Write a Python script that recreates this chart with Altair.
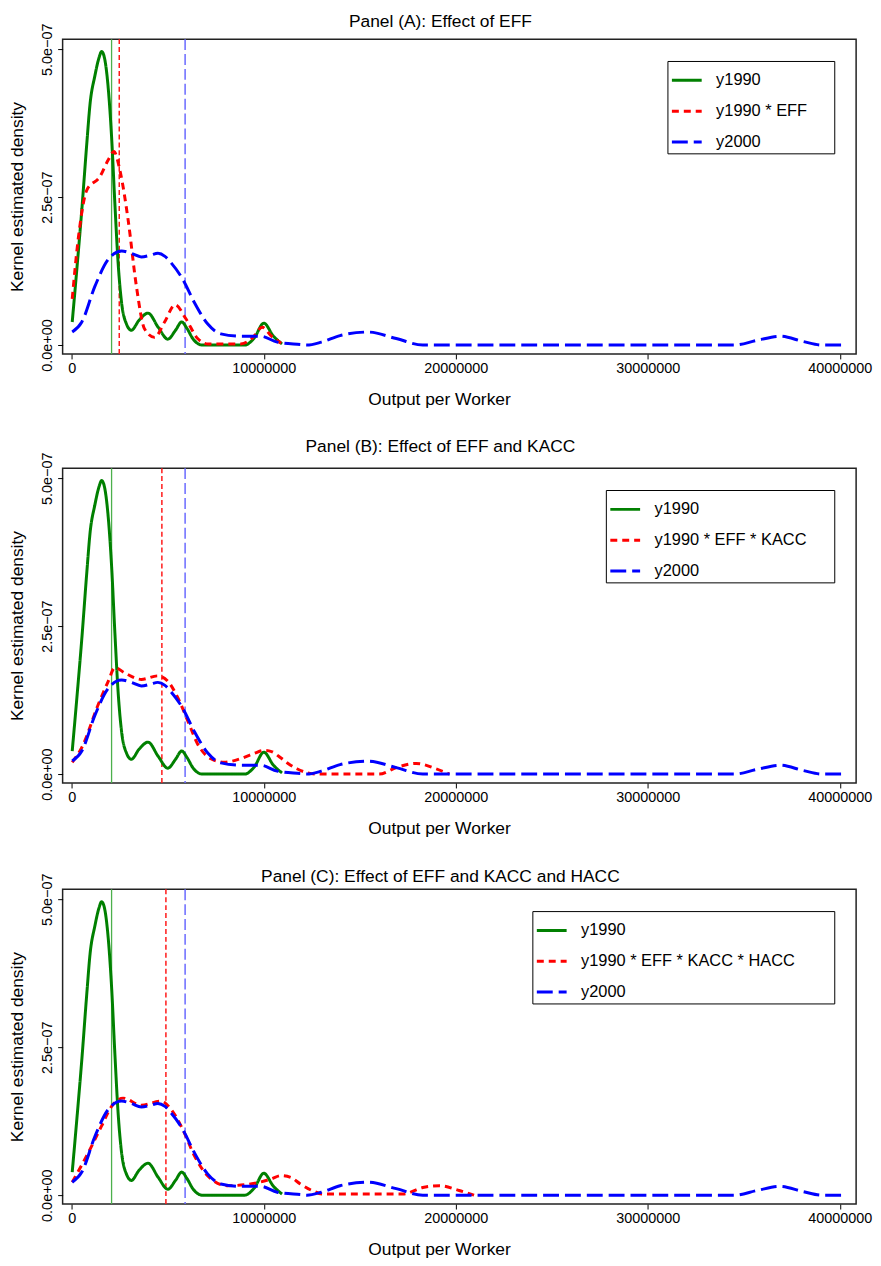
import altair as alt
import pandas as pd

FONT = "Liberation Sans"

# ---------------- data (x in millions, density in units of 1e-07) ----------------
green_x = [0.02, 0.26, 0.52, 0.78, 0.95, 1.20, 1.42, 1.55, 1.68, 1.85, 2.07, 2.24, 2.41, 2.59, 2.84, 3.10,
           3.50, 3.97, 4.50, 5.00, 5.40, 5.72, 6.00, 6.30, 6.80, 9.00, 9.50, 10.00, 10.50, 10.95]
green_y = [0.39, 1.28, 2.29, 3.41, 4.08, 4.55, 4.86, 4.96, 4.88, 4.50, 3.52, 2.40, 1.39, 0.72, 0.36, 0.25,
           0.42, 0.54, 0.30, 0.10, 0.25, 0.39, 0.28, 0.11, 0.00, 0.00, 0.12, 0.37, 0.15, 0.02]

blue_x = [0.02, 0.52, 1.21, 1.90, 2.59, 3.10, 3.62, 4.10, 4.48, 4.85, 5.17, 5.78, 6.38, 7.07, 7.76,
          8.79, 9.83, 10.70, 11.90, 12.24, 13.00, 13.97, 15.43, 16.90, 18.28, 34.50, 35.70, 36.90,
          38.10, 39.10, 40.20]
blue_y = [0.22, 0.39, 1.00, 1.45, 1.59, 1.55, 1.49, 1.52, 1.55, 1.50, 1.39, 1.11, 0.72, 0.36, 0.19,
          0.15, 0.15, 0.05, 0.01, 0.00, 0.05, 0.16, 0.22, 0.11, 0.00, 0.00, 0.08, 0.15,
          0.06, 0.00, 0.00]

redA_x = [0.02, 0.35, 0.78, 1.47, 1.90, 2.19, 2.50, 2.93, 3.36, 3.79, 4.31, 4.83, 5.38, 5.95, 6.55,
          7.10, 8.80, 9.40, 9.92, 10.40, 10.90]
redA_y = [0.78, 1.84, 2.62, 2.85, 3.13, 3.27, 2.96, 2.12, 1.00, 0.27, 0.13, 0.39, 0.68, 0.44, 0.11,
          0.02, 0.02, 0.12, 0.30, 0.15, 0.03]

redB_x = [0.02, 0.52, 1.38, 1.90, 2.24, 2.76, 3.62, 4.48, 5.00, 5.52, 6.04, 6.55, 7.24, 7.93, 8.79,
          9.50, 10.00, 10.40, 10.86, 11.30, 11.72, 12.76, 16.00, 16.90, 17.93, 18.97, 19.66]
redB_y = [0.20, 0.45, 1.18, 1.57, 1.80, 1.71, 1.60, 1.66, 1.57, 1.29, 0.90, 0.51, 0.26, 0.20, 0.26,
          0.35, 0.40, 0.38, 0.28, 0.17, 0.09, 0.00, 0.00, 0.11, 0.18, 0.09, 0.00]

redC_x = [0.02, 0.86, 1.55, 2.07, 2.67, 3.62, 4.66, 5.17, 5.78, 6.38, 7.07, 8.10, 9.31, 10.35, 10.90,
          11.40, 11.90, 12.50, 13.10, 17.24, 18.28, 19.14, 20.17, 20.95]
redC_y = [0.22, 0.72, 1.17, 1.50, 1.64, 1.52, 1.59, 1.45, 1.11, 0.67, 0.33, 0.16, 0.19, 0.27, 0.33,
          0.30, 0.19, 0.08, 0.02, 0.02, 0.13, 0.16, 0.08, 0.00]

panel_titles = ["Panel (A): Effect of EFF",
                "Panel (B): Effect of EFF and KACC",
                "Panel (C): Effect of EFF and KACC and HACC"]
red_labels = ["y1990 * EFF", "y1990 * EFF * KACC", "y1990 * EFF * KACC * HACC"]
red_series = [(redA_x, redA_y), (redB_x, redB_y), (redC_x, redC_y)]

vline_green = [2.07, 2.07, 2.07]
vline_red = [2.47, 4.69, 4.90]
vline_blue = [5.90, 5.90, 5.90]
title_offsets = [-8, -4, -12]
legend_right_space = [2, 2, 3]   # invisible blank glyphs after legend labels (widen the box)

x_ticks = [0, 10, 20, 30, 40]
y_ticks = [0, 2.5, 5.0]

COLORS = ["#008000", "#ff0000", "#0000ff"]
DASHES = [[1, 0], [7, 5], [16, 6]]


def make_panel(i):
    red_x, red_y = red_series[i]
    names = ["y1990", red_labels[i], "y2000"]
    rows = []
    for name, xs, ys in [(names[0], green_x, green_y), (names[1], red_x, red_y), (names[2], blue_x, blue_y)]:
        for xv, yv in zip(xs, ys):
            rows.append({"x": xv, "d": yv, "s": name})
    df = pd.DataFrame(rows)

    xscale = alt.Scale(domain=[-0.48, 40.85], nice=False, zero=False)
    yscale = alt.Scale(domain=[-0.15, 5.17], nice=False, zero=False)

    xaxis = alt.Axis(values=x_ticks, title="Output per Worker",
                     labelExpr="datum.value == 0 ? '0' : format(datum.value * 1000000, 'd')",
                     grid=False, domain=False, tickSize=5, tickColor="black", labelColor="black",
                     labelFont=FONT, labelFontSize=14.5, labelPadding=3,
                     titleFont=FONT, titleFontSize=17.5, titleFontWeight="normal", titleColor="black",
                     titlePadding=15, titleX=379, titleAlign="center")
    yaxis = alt.Axis(values=y_ticks, title="Kernel estimated density",
                     labelExpr="format(datum.value, '.1f') + (datum.value == 0 ? 'e+00' : 'e\u221207')",
                     labelAngle=270, labelAlign="center", labelBaseline="alphabetic",
                     grid=False, domain=False, tickSize=5, tickColor="black", labelColor="black",
                     labelFont=FONT, labelFontSize=14.5, labelPadding=6,
                     titleFont=FONT, titleFontSize=17.5, titleFontWeight="normal", titleColor="black",
                     titlePadding=13)

    vl = pd.DataFrame({"g": [vline_green[i]], "r": [vline_red[i]], "b": [vline_blue[i]]})
    rule_g = alt.Chart(vl).mark_rule(color="#4cb04c", strokeWidth=1.3).encode(
        x=alt.X("g:Q", scale=xscale, axis=xaxis))
    rule_r = alt.Chart(vl).mark_rule(color="#ff1a1a", strokeWidth=1.5, strokeDash=[5, 3]).encode(
        x=alt.X("r:Q", scale=xscale))
    rule_b = alt.Chart(vl).mark_rule(color="#6a6aff", strokeWidth=1.5, strokeDash=[11, 4]).encode(
        x=alt.X("b:Q", scale=xscale))

    pad = "\u2800" * legend_right_space[i]
    lines = alt.Chart(df).mark_line(strokeWidth=3, interpolate="monotone").encode(
        x=alt.X("x:Q", scale=xscale, axis=xaxis),
        y=alt.Y("d:Q", scale=yscale, axis=yaxis),
        color=alt.Color("s:N", scale=alt.Scale(domain=names, range=COLORS),
                        legend=alt.Legend(title=None, orient="top-right", offset=22,
                                          strokeColor="black", fillColor="white", padding=3,
                                          rowPadding=6, symbolType="stroke", symbolSize=900,
                                          symbolStrokeWidth=3, labelFont=FONT, labelFontSize=16.5,
                                          labelColor="black", labelOffset=13, labelLimit=600,
                                          labelExpr="datum.label + '" + pad + "'")),
        strokeDash=alt.StrokeDash("s:N", scale=alt.Scale(domain=names, range=DASHES), legend=None),
        order=alt.Order("x:Q"),
    )

    return alt.layer(rule_g, rule_r, rule_b, lines).properties(
        width=799, height=317,
        title=alt.TitleParams(panel_titles[i], font=FONT, fontSize=17.5, fontWeight="normal",
                              color="black", anchor="middle", frame="bounds", offset=title_offsets[i]),
    )


chart = alt.vconcat(make_panel(0), make_panel(1), make_panel(2), spacing=29).resolve_scale(
    color="independent", strokeDash="independent"
).properties(padding={"left": 0, "top": 0, "right": 0, "bottom": 0}).configure(
    background="white",
    view=alt.ViewConfig(stroke="#222222", strokeWidth=1.5),
)

chart.save("out.html", embed_options={"renderer": "svg", "actions": False})
